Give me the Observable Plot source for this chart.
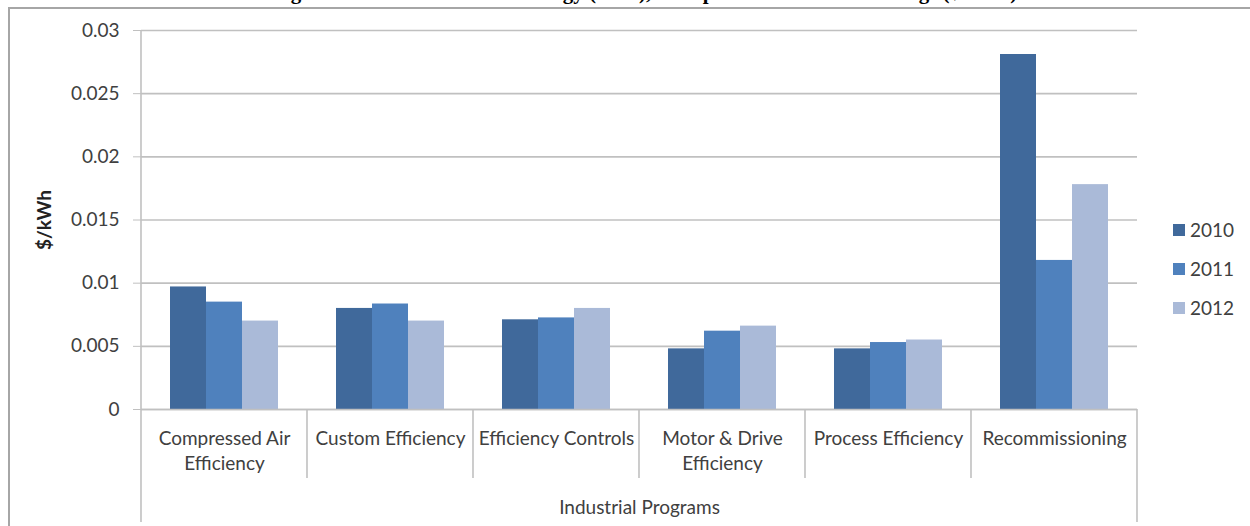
<!DOCTYPE html>
<html><head><meta charset="utf-8">
<script src="https://cdn.jsdelivr.net/npm/d3@7"></script>
<script src="https://cdn.jsdelivr.net/npm/@observablehq/plot@0.6"></script>
<style>
body{margin:0;background:#fff;}
#wrap{position:relative;width:1250px;height:526px;overflow:hidden;background:#fff;}
#title{position:absolute;left:272px;top:-18px;font:bold 21px "Liberation Serif","Times New Roman",serif;white-space:nowrap;line-height:21px;color:#000;}
#frame{position:absolute;left:8px;top:7px;width:1260px;height:540px;border-top:2px solid #a6a6a6;border-left:2px solid #a6a6a6;}
#chart{position:absolute;left:0;top:0;}
#legend{position:absolute;left:1173px;top:210px;}
#legend .lg-swatches{font:19px Lato,sans-serif;color:#404040;margin:0;min-height:0;}
#legend .lg-swatch{height:39px;padding:0;margin:0;}
#legend .lg-swatch svg{margin-right:5px;}
</style></head><body>
<div id="wrap">
<div id="title">Figure 4: Levelized Cost of Energy (LCE), Cost per kWh Lifetime Savings ($/kWh)</div>
<div id="frame"></div>
<div id="chart"></div>
<div id="legend"></div>
</div>
<script>
const categories = ["Compressed Air Efficiency","Custom Efficiency","Efficiency Controls","Motor & Drive Efficiency","Process Efficiency","Recommissioning"];
const categoryLabels = ["Compressed Air\nEfficiency","Custom Efficiency","Efficiency Controls","Motor & Drive\nEfficiency","Process Efficiency","Recommissioning"];
const years = ["2010","2011","2012"];
const values2010 = [0.0097,0.0080,0.0071,0.0048,0.0048,0.0281];
const values2011 = [0.0085,0.00835,0.00725,0.0062,0.0053,0.0118];
const values2012 = [0.0070,0.0070,0.0080,0.0066,0.0055,0.0178];
const yTicks = [0,0.005,0.01,0.015,0.02,0.025,0.03];
const yTickLabels = ["0","0.005","0.01","0.015","0.02","0.025","0.03"];
const colors = ["#40699b","#4f81bd","#aabad8"];
const seriesValues = [values2010, values2011, values2012];

const data = categories.flatMap((c, i) => years.map((yr, j) => ({category: c, year: yr, value: seriesValues[j][i]})));

const chart = Plot.plot({
  width: 1250, height: 526,
  marginTop: 30, marginBottom: 117, marginLeft: 140, marginRight: 113,
  style: {fontFamily: "Lato, sans-serif", background: "transparent", color: "#404040"},
  fx: {domain: categories, padding: 0, label: null},
  x: {domain: years, paddingInner: 0, paddingOuter: 0.75, axis: null},
  y: {domain: [0, 0.03]},
  color: {domain: years, range: colors},
  marks: [
    Plot.gridY(yTicks, {stroke: "#c0c0c0", strokeOpacity: 1, strokeWidth: 1.6}),
    Plot.barY(data, {fx: "category", x: "year", y: "value", fill: "year"}),
    Plot.ruleY([0], {stroke: "#c0c0c0", strokeWidth: 1.6}),
    Plot.axisY(yTicks, {tickFormat: (d, i) => yTickLabels[i], tickSize: 8, tickPadding: 14, fontSize: 19,
      stroke: "#c0c0c0", fill: "#404040", label: "$/kWh", labelAnchor: "center", labelOffset: 104, labelArrow: "none"}),
    Plot.axisFx({anchor: "bottom", tickSize: 0, tickPadding: 18, fontSize: 19, lineHeight: 1.3, fill: "#404040",
      tickFormat: c => categoryLabels[categories.indexOf(c)],
      label: "Industrial Programs", labelAnchor: "center", labelOffset: 104, labelArrow: "none"})
  ]
});

const fx = chart.scale("fx"), y = chart.scale("y");
const svg = d3.select(chart);
const bounds = categories.map(c => fx.apply(c)).concat([fx.apply(categories[categories.length - 1]) + fx.bandwidth]);
const y0 = y.apply(0);
const g = svg.append("g").attr("stroke", "#c0c0c0").attr("stroke-width", 1.6);
g.append("line").attr("x1", bounds[0]).attr("x2", bounds[0]).attr("y1", y.apply(0.03)).attr("y2", y0);
bounds.forEach((b, i) => {
  const outer = i === 0 || i === bounds.length - 1;
  g.append("line").attr("x1", b).attr("x2", b).attr("y1", y0).attr("y2", y0 + (outer ? 113 : 69));
});
svg.selectAll('[aria-label="y-axis label"] text').attr("font-weight", "bold").attr("font-size", 19).attr("fill", "#222");
document.getElementById("chart").appendChild(chart);
document.getElementById("legend").appendChild(chart.legend("color", {columns: 1, swatchSize: 12, className: "lg"}));
</script>
</body></html>
